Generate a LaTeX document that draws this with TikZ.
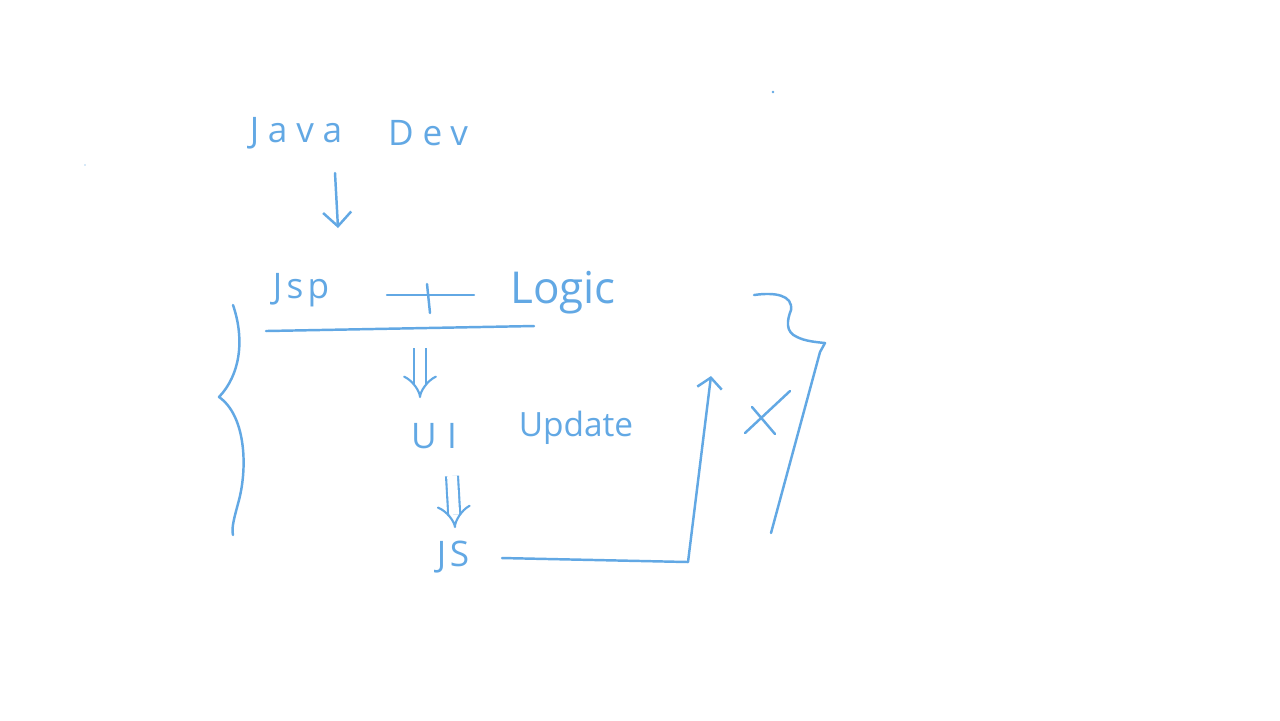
\documentclass[tikz,border=0pt]{standalone}
\usepackage{fontspec}
\setmainfont{Open Sans}
\usetikzlibrary{arrows.meta}
\definecolor{ink}{RGB}{98,168,228}
\tikzset{
  pen/.style={draw=ink, line width=0.7pt, line cap=round, line join=round},
  hand/.style={text=ink, inner sep=0pt, font=#1},
  hand/.default={\fontsize{10}{12}\selectfont},
  dbl/.style={draw=ink, line width=0.6pt, double=white, double distance=2.8pt, -{Implies[length=5pt,width=11pt]}},
  barb/.style={-{Straight Barb[length=4pt,width=8pt]}}
}
\begin{document}
\begin{tikzpicture}[x=0.01cm,y=-0.01cm]
\useasboundingbox (0,0) rectangle (1280,720);
\fill[white] (0,0) rectangle (1280,720);

% texts
\node[hand={\fontsize{10}{12}\selectfont\addfontfeature{LetterSpace=25}}] (java) at (296,133) {Java};
\node[hand={\fontsize{10}{12}\selectfont\addfontfeature{LetterSpace=25}}] (dev) at (428,133) {Dev};
\node[hand={\fontsize{10}{12}\selectfont\addfontfeature{LetterSpace=12}}] (jsp) at (301,290) {Jsp};
\node[hand={\fontsize{12.5}{15}\selectfont}] (logic) at (563,293) {Logic};
\node[hand={\fontsize{10}{12}\selectfont\addfontfeature{LetterSpace=30}}] (ui) at (434,436) {UI};
\node[hand={\fontsize{9.5}{12}\selectfont}] (update) at (576,428) {Update};
\node[hand={\fontsize{10}{12}\selectfont\addfontfeature{LetterSpace=10}}] (js) at (453,557) {JS};

% arrow java -> jsp
\draw[pen, barb] (335,173) -- (338,228);

% plus sign
\coordinate (p1) at (387,295);
\coordinate (p2) at (474,295);
\coordinate (p3) at (427,284);
\coordinate (p4) at (430,313);
\draw[pen] (p1) -- (p2);
\draw[pen] (p3) -- (p4);

% underline
\coordinate (ul1) at (266,331);
\coordinate (ul2) at (534,326);
\draw[pen] (ul1) -- (ul2);

% double arrows
\draw[dbl] (420,348) -- (420,398);
\draw[dbl] (452,476) -- (455,528);

% JS -> loop up
\coordinate (c0) at (502,558);
\coordinate (c1) at (688,562);
\coordinate (c2) at (711,376);
\draw[pen, -{Straight Barb[length=3pt,width=7pt]}] (c0) -- (c1) -- (c2);

% X
\draw[pen] (745,433) -- (790,391);
\draw[pen] (752,407) -- (775,434);

% left brace
\draw[pen] (233,305) .. controls (245,340) and (240,375) .. (219,397)
  .. controls (245,415) and (248,465) .. (239,500)
  .. controls (235,515) and (231,528) .. (233,535);

% right brace
\draw[pen] (754,295) .. controls (775,292) and (793,295) .. (791,310)
  .. controls (787,320) and (785,332) .. (797,337)
  .. controls (805,341) and (815,342) .. (825,343)
  -- (820,352) -- (771,533);

% specks
\fill[ink] (773,92) circle (1.3);
\fill[ink!50] (85,165) circle (0.8);
\end{tikzpicture}
\end{document}
